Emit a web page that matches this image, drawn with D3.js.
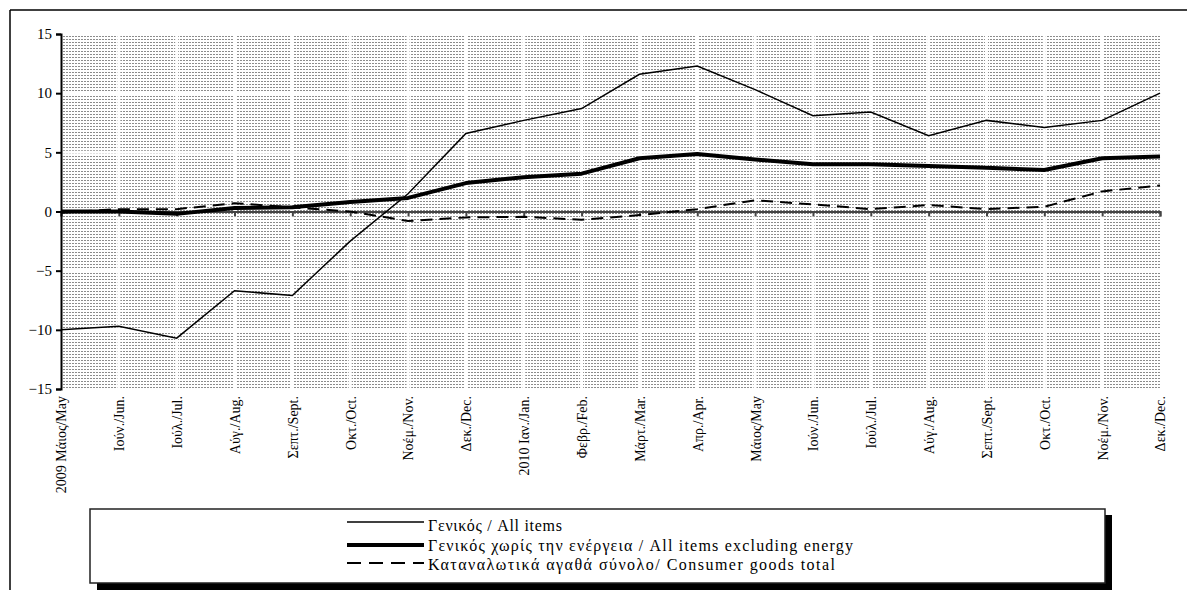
<!DOCTYPE html>
<html>
<head>
<meta charset="utf-8">
<script src="https://cdn.jsdelivr.net/npm/d3@7"></script>
<style>
  html, body { margin: 0; padding: 0; background: #fff; }
  svg { display: block; }
  text { font-family: "Liberation Serif", "Times New Roman", serif; fill: #000; }
</style>
</head>
<body>
<svg id="chart" width="1187" height="590"></svg>
<script>
// ---- data ----
const monthLabels = ["2009 Μάιος/May","Ιούν./Jun.","Ιούλ./Jul.","Αύγ./Aug.","Σεπτ./Sept.","Οκτ./Oct.","Νοέμ./Nov.","Δεκ./Dec.",
  "2010 Ιαν./Jan.","Φεβρ./Feb.","Μάρτ./Mar.","Απρ./Apr.","Μάιος/May","Ιούν./Jun.","Ιούλ./Jul.","Αύγ./Aug.",
  "Σεπτ./Sept.","Οκτ./Oct.","Νοέμ./Nov.","Δεκ./Dec."];
const allItems = [-10.0,-9.7,-10.7,-6.7,-7.1,-2.5,1.5,6.6,7.7,8.7,11.6,12.3,10.3,8.1,8.4,6.4,7.7,7.1,7.7,10.0];
const exclEnergy = [0.0,0.0,-0.2,0.3,0.35,0.8,1.15,2.4,2.9,3.2,4.5,4.85,4.4,4.0,4.0,3.85,3.7,3.5,4.5,4.65];
const consumerGoods = [-0.1,0.2,0.2,0.7,0.35,0.0,-0.8,-0.5,-0.45,-0.7,-0.3,0.2,0.95,0.6,0.2,0.55,0.2,0.4,1.7,2.2];
const yTicks = [-15,-10,-5,0,5,10,15];
const legendLabels = ["Γενικός / All items","Γενικός χωρίς την ενέργεια / All items excluding energy","Καταναλωτικά αγαθά σύνολο/ Consumer goods total"];

// ---- layout ----
const svg = d3.select("#chart");
const pLeft = 61, pRight = 1160, pTop = 34, pBottom = 389;
const x = d3.scalePoint().domain(d3.range(monthLabels.length)).range([pLeft, pRight]);
const y = d3.scaleLinear().domain([-15, 15]).range([pBottom, pTop]);
const serif = "'Liberation Serif', 'Times New Roman', serif";

// frame
svg.append("line").attr("x1",10).attr("x2",1187).attr("y1",10).attr("y2",10).attr("stroke","#000").attr("stroke-width",1.5);
svg.append("line").attr("x1",10).attr("x2",10).attr("y1",10).attr("y2",590).attr("stroke","#000").attr("stroke-width",1.5);

// pattern background
const defs = svg.append("defs");
const pat = defs.append("pattern").attr("id","dots").attr("patternUnits","userSpaceOnUse")
  .attr("width",3).attr("height",3);
pat.append("rect").attr("width",3).attr("height",3).attr("fill","#fff");
pat.append("rect").attr("x",0).attr("y",0).attr("width",2).attr("height",1).attr("fill","#8c8c8c");
svg.append("rect").attr("x",pLeft).attr("y",pTop).attr("width",pRight-pLeft).attr("height",pBottom-pTop).attr("fill","url(#dots)");

// white grid lines
const g = svg.append("g");
g.selectAll("line.h").data(yTicks.filter(d => d !== 0 && Math.abs(d) !== 15)).join("line")
  .attr("x1",pLeft).attr("x2",pRight).attr("y1",d=>y(d)).attr("y2",d=>y(d))
  .attr("stroke","#fff").attr("stroke-width",3);
g.selectAll("line.v").data(d3.range(1, monthLabels.length-1)).join("line")
  .attr("x1",d=>x(d)).attr("x2",d=>x(d)).attr("y1",pTop).attr("y2",pBottom)
  .attr("stroke","#fff").attr("stroke-width",3);

// zero axis with ticks
const zeroAxis = svg.append("g").attr("transform",`translate(0,${y(0)})`)
  .call(d3.axisBottom(x).tickSize(5).tickFormat(""));
zeroAxis.select(".domain").attr("stroke","#444").attr("stroke-width",2);
zeroAxis.selectAll(".tick line").attr("stroke","#444").attr("stroke-width",2);

// category labels
const labAxis = svg.append("g").attr("transform",`translate(0,396)`)
  .call(d3.axisBottom(x).tickSize(0).tickFormat(i => monthLabels[i]));
labAxis.select(".domain").remove();
labAxis.selectAll("text")
  .attr("transform","rotate(-90)")
  .attr("x",0).attr("y",0).attr("dy","0.35em")
  .attr("text-anchor","end")
  .style("font-family",serif)
  .style("font-size","14px");

// lines
const line = d3.line().x((d,i)=>x(i)).y(d=>y(d));
svg.append("path").datum(consumerGoods).attr("d",line).attr("fill","none")
  .attr("stroke","#000").attr("stroke-width",2).attr("stroke-dasharray","12,7");
svg.append("path").datum(exclEnergy).attr("d",line).attr("fill","none")
  .attr("stroke","#000").attr("stroke-width",4).attr("stroke-linejoin","round");
svg.append("path").datum(allItems).attr("d",line).attr("fill","none")
  .attr("stroke","#000").attr("stroke-width",1.5);

// y axis
const yAxis = svg.append("g").attr("transform",`translate(${pLeft},0)`)
  .call(d3.axisLeft(y).tickValues(yTicks).tickSize(5).tickPadding(4).tickFormat(d3.format("d")));
yAxis.select(".domain").attr("stroke","#000").attr("stroke-width",2);
yAxis.selectAll(".tick line").attr("stroke","#000").attr("stroke-width",2);
yAxis.selectAll("text").style("font-family",serif).style("font-size","15px");

// legend
const lg = svg.append("g");
lg.append("rect").attr("x",97).attr("y",515).attr("width",1015).attr("height",80).attr("fill","#000");
lg.append("rect").attr("x",90).attr("y",509).attr("width",1015).attr("height",74)
  .attr("fill","#fff").attr("stroke","#222").attr("stroke-width",1.5);
const rowsLine = [522, 545, 563];
const rowsText = [531, 551, 570];
const styles = [{w:1.5,dash:null},{w:4,dash:null},{w:2,dash:"14,8"}];
const widths = [134, 425, 407];
legendLabels.forEach((t,i) => {
  lg.append("line").attr("x1",347).attr("x2",424).attr("y1",rowsLine[i]).attr("y2",rowsLine[i])
    .attr("stroke","#000").attr("stroke-width",styles[i].w).attr("stroke-dasharray",styles[i].dash);
  lg.append("text").attr("x",428).attr("y",rowsText[i]).text(t)
    .style("font-family",serif)
    .style("font-size","16px").attr("textLength",widths[i]).attr("lengthAdjust","spacing");
});
</script>
</body>
</html>
